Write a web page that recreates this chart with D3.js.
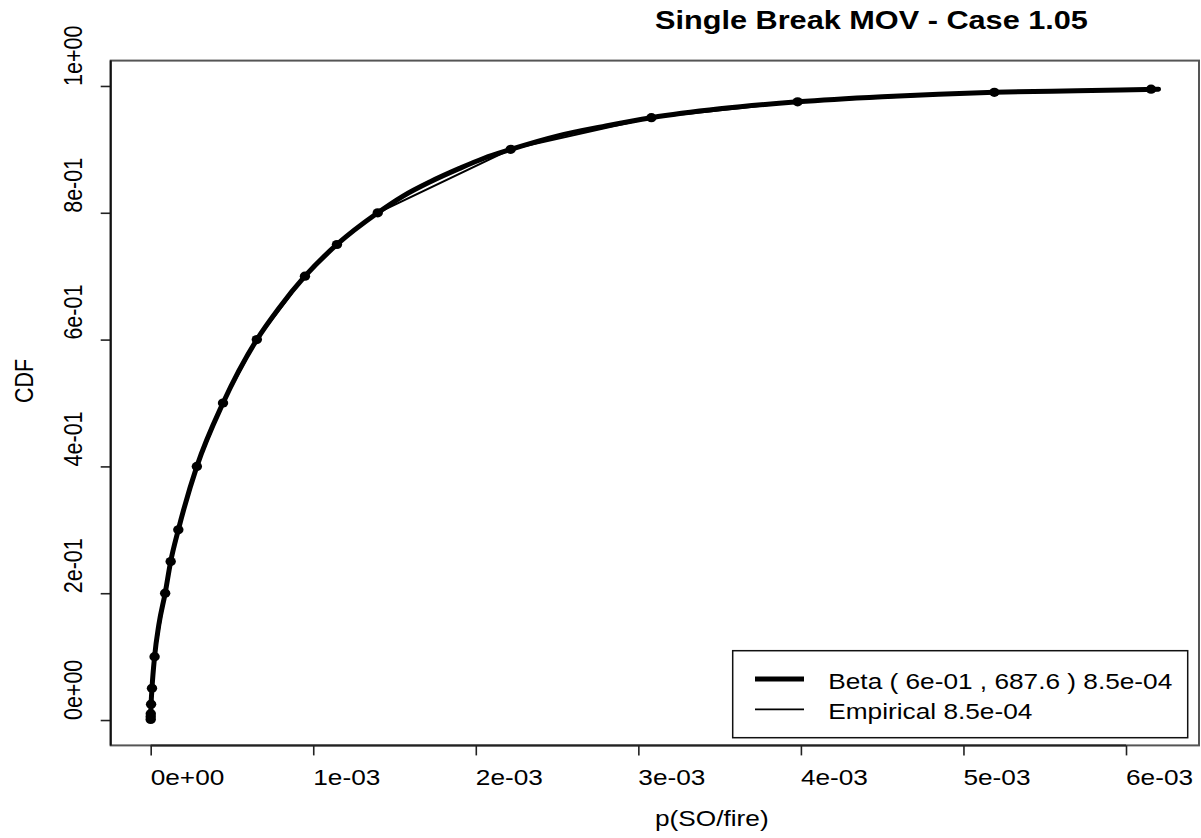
<!DOCTYPE html>
<html><head><meta charset="utf-8">
<script src="https://cdn.jsdelivr.net/npm/d3@7"></script>
<style>html,body{margin:0;padding:0;background:#fff;}svg{display:block;}</style>
</head><body>
<script>
// ---- data (x in units of p(SO/fire), y = CDF) ----
const empProb = [0.001, 0.005, 0.01, 0.025, 0.05, 0.1, 0.2, 0.25, 0.3, 0.4, 0.5, 0.6, 0.7, 0.75, 0.8, 0.9, 0.95, 0.975, 0.99, 0.995];
const empX = [0.00000005, 0.0000002, 0.0000006, 0.0000025, 0.000008, 0.000024, 0.000089, 0.000123, 0.000170, 0.000284, 0.000445, 0.000653, 0.000949, 0.001146, 0.001397, 0.002215, 0.003080, 0.003980, 0.005190, 0.006154];
const betaProb = [0, 0.005, 0.01, 0.025, 0.05, 0.1, 0.15, 0.2, 0.25, 0.3, 0.4, 0.5, 0.6, 0.65, 0.7, 0.75, 0.8, 0.826, 0.849, 0.87, 0.886, 0.9, 0.921, 0.937, 0.95, 0.964, 0.975, 0.983, 0.99, 0.9925, 0.995];
const betaX = [0, 0.0000002, 0.0000006, 0.0000025, 0.000008, 0.000024, 0.00005, 0.000089, 0.000123, 0.00017, 0.000284, 0.000445, 0.000653, 0.00079, 0.000949, 0.001146, 0.001397, 0.00155, 0.00172, 0.0019, 0.00205, 0.002215, 0.0025, 0.0028, 0.00308, 0.0035, 0.00398, 0.0045, 0.00519, 0.0057, 0.0062];
const xTicks = [0, 0.001, 0.002, 0.003, 0.004, 0.005, 0.006];
const xTickLabels = ["0e+00", "1e-03", "2e-03", "3e-03", "4e-03", "5e-03", "6e-03"];
const yTicks = [0, 0.2, 0.4, 0.6, 0.8, 1.0];
const yTickLabels = ["0e+00", "2e-01", "4e-01", "6e-01", "8e-01", "1e+00"];
const legendLabels = ["Beta ( 6e-01 , 687.6 ) 8.5e-04", "Empirical 8.5e-04"];
const titleText = "Single Break MOV - Case 1.05";
const xTitle = "p(SO/fire)";
const yTitle = "CDF";

// ---- layout ----
const W = 1201, H = 838;
const FONT = "'Liberation Sans', Arial, Helvetica, sans-serif";
const SX = 1.22, FS = 21.5;
const svg = d3.select("body").append("svg").attr("width", W).attr("height", H);
const x = d3.scaleLinear().domain([-0.000246, 0.006449]).range([110.7, 1199]);
const y = d3.scaleLinear().domain([-0.04, 1.04]).range([745.4, 60.6]);

function stext(px, py, str, opts = {}) {
  const g = svg.append("g")
    .attr("transform", `translate(${px},${py}) scale(${opts.sx || SX},1)` + (opts.rot ? ` rotate(${opts.rot})` : ""));
  g.append("text").attr("x", 0).attr("y", 0)
    .attr("font-family", FONT).attr("font-size", opts.size || FS)
    .attr("font-weight", opts.bold ? "bold" : "normal")
    .attr("text-anchor", "start").attr("fill", "#000").text(str);
}

// box
svg.append("rect").attr("x", x.range()[0]).attr("y", y.range()[1])
  .attr("width", x.range()[1] - x.range()[0]).attr("height", y.range()[0] - y.range()[1])
  .attr("fill", "none").attr("stroke", "#555").attr("stroke-width", 2);

// x axis
const xAxis = d3.axisBottom(x).tickValues(xTicks).tickSize(10).tickFormat("");
const gx = svg.append("g").attr("transform", `translate(0,${y.range()[0]})`).call(xAxis);
gx.select(".domain").remove();
gx.selectAll(".tick line").attr("stroke", "#222").attr("stroke-width", 1.6);
svg.append("line").attr("x1", x(xTicks[0])).attr("x2", x(xTicks[xTicks.length - 1]))
  .attr("y1", y.range()[0]).attr("y2", y.range()[0]).attr("stroke", "#222").attr("stroke-width", 2);
xTicks.forEach((t, i) => stext(x(t), 785, xTickLabels[i]));

// y axis
const yAxis = d3.axisLeft(y).tickValues(yTicks).tickSize(10).tickFormat("");
const gy = svg.append("g").attr("transform", `translate(${x.range()[0]},0)`).call(yAxis);
gy.select(".domain").remove();
gy.selectAll(".tick line").attr("stroke", "#222").attr("stroke-width", 1.6);
svg.append("line").attr("x1", x.range()[0]).attr("x2", x.range()[0])
  .attr("y1", y.range()[1]).attr("y2", y.range()[0]).attr("stroke", "#111").attr("stroke-width", 2);
yTicks.forEach((t, i) => stext(81.7, y(t), yTickLabels[i], { rot: -90 }));

// titles
stext(655, 29.3, titleText, { size: 26, bold: true, sx: 1.18 });
stext(655, 826, xTitle);
stext(33, 403, yTitle, { rot: -90 });

// beta curve (thick)
const betaPts = betaX.map((v, i) => [v, betaProb[i]]);
svg.append("path").datum(betaPts)
  .attr("d", d3.line().x(d => x(d[0])).y(d => y(d[1])).curve(d3.curveMonotoneX))
  .attr("fill", "none").attr("stroke", "#000").attr("stroke-width", 5).attr("stroke-linejoin", "round").attr("stroke-linecap", "round");

// empirical (thin line + points)
const empPts = empX.map((v, i) => [v, empProb[i]]);
svg.append("path").datum(empPts)
  .attr("d", d3.line().x(d => x(d[0])).y(d => y(d[1])))
  .attr("fill", "none").attr("stroke", "#000").attr("stroke-width", 2);
svg.selectAll("ellipse.pt").data(empPts).enter().append("ellipse").attr("class", "pt")
  .attr("cx", d => x(d[0])).attr("cy", d => y(d[1])).attr("rx", 5.2).attr("ry", 4.6).attr("fill", "#000");

// legend
svg.append("rect").attr("x", 732.7).attr("y", 650.7).attr("width", 455).attr("height", 87)
  .attr("fill", "#fff").attr("stroke", "#111").attr("stroke-width", 1.5);
svg.append("line").attr("x1", 755).attr("x2", 804).attr("y1", 679).attr("y2", 679).attr("stroke", "#000").attr("stroke-width", 5);
svg.append("line").attr("x1", 755).attr("x2", 804).attr("y1", 709.3).attr("y2", 709.3).attr("stroke", "#000").attr("stroke-width", 1.8);
stext(828.3, 689.3, legendLabels[0]);
stext(828.3, 719.3, legendLabels[1]);
</script>
</body></html>
